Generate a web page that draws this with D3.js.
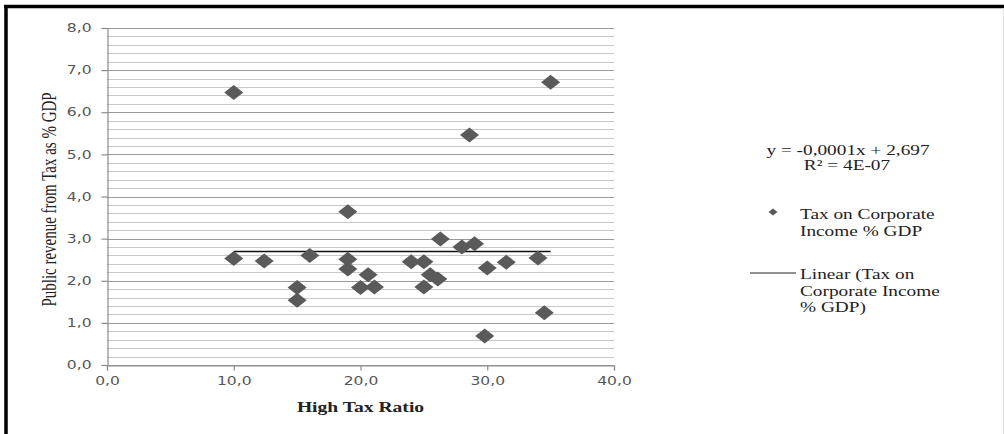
<!DOCTYPE html>
<html><head><meta charset="utf-8">
<script src="https://cdn.jsdelivr.net/npm/d3@7"></script>
<style>body{margin:0;background:#fff}svg{display:block}</style>
</head><body>
<svg id="c" width="1004" height="434"></svg>
<script>
const xValues = [10.0, 35.0, 28.6, 19.0, 10.0, 12.4, 16.0, 15.0, 15.0, 26.3, 28.0, 29.0, 19.0, 19.0, 20.6, 20.0, 21.1, 24.0, 25.0, 25.5, 26.1, 25.0, 30.0, 31.5, 34.0, 34.5, 29.8];
const yValues = [6.47, 6.71, 5.46, 3.64, 2.53, 2.47, 2.60, 1.84, 1.54, 2.99, 2.80, 2.88, 2.51, 2.28, 2.14, 1.84, 1.85, 2.45, 2.45, 2.14, 2.04, 1.85, 2.30, 2.44, 2.54, 1.24, 0.69];
const trendSlope = -0.0001, trendIntercept = 2.697;
const xTicks = [0, 10, 20, 30, 40];
const yTicks = [0, 1, 2, 3, 4, 5, 6, 7, 8];
const yMinorTicks = d3.range(0, 8.01, 0.2);
const equationLines = ["y = -0,0001x + 2,697", "R² = 4E-07"];
const seriesLabel = ["Tax on Corporate", "Income % GDP"];
const trendLabel = ["Linear (Tax on", "Corporate Income", "% GDP)"];
const xTitle = "High Tax Ratio";
const yTitle = "Public revenue from Tax as % GDP";

const svg = d3.select("#c");
const fmt = v => d3.format(".1f")(v).replace(".", ",");
const L = 107, R = 614, T = 28, B = 365;
const x = d3.scaleLinear().domain([0, 40]).range([L, R]);
const y = d3.scaleLinear().domain([0, 8]).range([B, T]);
const SX = 1.35; // horizontal stretch of the original image's text

function stretch(sel, sx) {
  sel.each(function () {
    const t = d3.select(this);
    const tx = +t.attr("x") || 0, ty = +t.attr("y") || 0;
    t.attr("x", 0).attr("y", 0).attr("transform", `translate(${tx},${ty}) scale(${sx},1)`);
  });
}

// frame
svg.append("line").attr("x1", 4).attr("x2", 1004).attr("y1", 6.5).attr("y2", 6.5).attr("stroke", "#000").attr("stroke-width", 3.5);
svg.append("line").attr("x1", 6).attr("x2", 6).attr("y1", 5).attr("y2", 434).attr("stroke", "#000").attr("stroke-width", 3.5);
svg.append("line").attr("x1", 1003.5).attr("x2", 1003.5).attr("y1", 8).attr("y2", 434).attr("stroke", "#e0e0e0").attr("stroke-width", 1);

// gridlines
svg.append("g").selectAll("line").data(yMinorTicks).join("line")
  .attr("x1", L).attr("x2", R)
  .attr("y1", d => Math.round(y(d)) + 0.5).attr("y2", d => Math.round(y(d)) + 0.5)
  .attr("stroke", d => Math.abs(d - Math.round(d)) < 1e-6 ? "#9a9a9a" : "#c8c8c8")
  .attr("stroke-width", 1.2);

// axes
const yAxis = svg.append("g").attr("transform", `translate(${L + 0.5},0)`)
  .call(d3.axisLeft(y).tickValues(yTicks).tickFormat(fmt).tickSize(6).tickPadding(10));
const xAxis = svg.append("g").attr("transform", `translate(0,${B + 0.5})`)
  .call(d3.axisBottom(x).tickValues(xTicks).tickFormat(fmt).tickSize(5).tickPadding(6));
[xAxis, yAxis].forEach(a => {
  a.selectAll("path,line").attr("stroke", "#8c8c8c").attr("stroke-width", 1.2);
  a.selectAll("text").attr("fill", "#555").style("font-family", "'DejaVu Sans', Verdana, sans-serif").style("font-size", "11.5px");
  stretch(a.selectAll("text"), SX);
});

// trend line
const xr = d3.extent(xValues);
svg.append("line")
  .attr("x1", x(xr[0])).attr("x2", x(xr[1]))
  .attr("y1", y(trendIntercept + trendSlope * xr[0])).attr("y2", y(trendIntercept + trendSlope * xr[1]))
  .attr("stroke", "#111").attr("stroke-width", 1.4);

// points
const diamond = (w, h) => `M0,${-h/2}L${w/2},0L0,${h/2}L${-w/2},0Z`;
svg.append("g").selectAll("path").data(xValues.map((v, i) => [v, yValues[i]])).join("path")
  .attr("d", diamond(19, 15))
  .attr("transform", d => `translate(${x(d[0])},${y(d[1])})`)
  .attr("fill", "#5a5a5a");

// titles
const serif = "'Liberation Serif', 'Times New Roman', serif";
svg.append("text").attr("transform", `translate(${(L + R) / 2},412) scale(${SX},1)`).attr("text-anchor", "middle")
  .style("font-family", serif).style("font-size", "14.5px").style("font-weight", "bold").attr("fill", "#222").text(xTitle);
svg.append("text").attr("transform", `translate(56,${(T + B) / 2 + 3}) scale(${SX},1) rotate(-90)`).attr("text-anchor", "middle")
  .style("font-family", serif).style("font-size", "15px").attr("fill", "#222").text(yTitle);

// legend
const lg = svg.append("g").style("font-family", serif).style("font-size", "14.3px").attr("fill", "#222");
lg.append("text").attr("x", 848).attr("y", 155).attr("text-anchor", "middle").text(equationLines[0]);
lg.append("text").attr("x", 847).attr("y", 170).attr("text-anchor", "middle").text(equationLines[1]);
lg.append("path").attr("d", diamond(9, 7)).attr("transform", "translate(773,212)").attr("fill", "#5a5a5a");
seriesLabel.forEach((t, i) => lg.append("text").attr("x", 800).attr("y", 219 + i * 16.5).text(t));
lg.append("line").attr("x1", 750).attr("x2", 796).attr("y1", 273).attr("y2", 273).attr("stroke", "#222").attr("stroke-width", 1.2);
trendLabel.forEach((t, i) => lg.append("text").attr("x", 800).attr("y", 279 + i * 16.5).text(t));
stretch(lg.selectAll("text"), SX);
</script>
</body></html>
